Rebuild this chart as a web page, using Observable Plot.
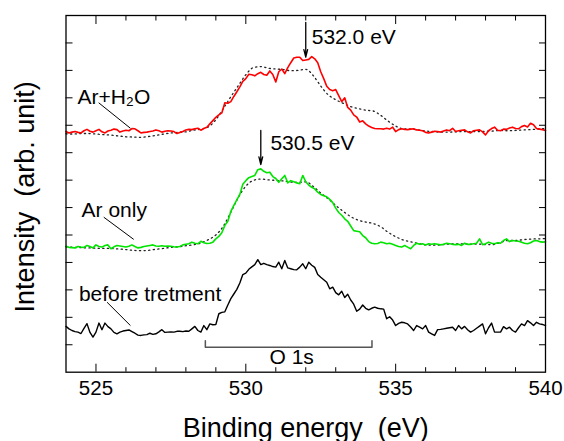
<!DOCTYPE html>
<html>
<head>
<meta charset="utf-8">
<script src="https://cdn.jsdelivr.net/npm/d3@7"></script>
<script src="https://cdn.jsdelivr.net/npm/@observablehq/plot@0.6"></script>
<style>
  html, body { margin: 0; padding: 0; background: #fff; }
</style>
</head>
<body>
<div id="chart"></div>
<script>
// O 1s XPS spectra, stacked with vertical offsets (arbitrary intensity units).
// Solid spectra are sampled every 0.1 eV from 524 eV.
const energyStart = 524;
const energyStep = 0.1;

const beforeTreatment = [
  1.67,1.58,1.52,1.48,1.46,1.41,1.60,1.77,1.45,1.28,
  1.46,1.79,1.55,1.79,1.66,1.58,1.45,1.40,1.46,1.50,1.52,1.54,
  1.48,1.42,1.35,1.34,1.36,1.37,1.42,1.38,1.40,1.47,1.55,1.45,
  1.46,1.47,1.46,1.49,1.49,1.48,1.50,1.49,1.58,1.67,1.52,1.46,1.70,
  1.55,1.76,1.73,1.74,2.13,2.18,2.20,2.45,2.68,2.85,3.02,3.25,
  3.56,3.61,3.75,3.84,3.92,4.10,3.92,3.97,3.92,3.89,3.85,3.83,
  4.01,3.77,4.07,3.80,3.77,3.74,3.73,3.83,3.95,3.77,4.01,3.90,3.82,
  3.56,3.46,3.37,3.28,3.04,3.10,2.90,2.82,2.95,2.72,2.84,2.63,
  2.48,2.22,2.30,2.45,2.33,2.27,2.33,2.37,2.33,2.31,2.30,1.95,2.02,
  1.90,1.70,1.78,1.82,1.80,1.76,1.65,1.52,1.70,1.64,1.58,1.70,
  1.46,1.40,1.34,1.55,1.56,1.58,1.60,1.62,1.64,1.52,1.70,1.58,
  1.67,1.55,1.46,1.52,1.60,1.68,1.76,1.40,1.62,1.79,1.46,1.46,1.46,
  1.66,
  1.58,1.64,1.52,1.46,1.62,1.76,1.70,1.88,1.80,1.70,1.82,1.76,1.74,1.70
];

const arOnly = [
  4.59,4.55,4.54,4.53,4.58,4.56,4.55,4.62,4.58,4.53,
  4.64,4.58,4.56,4.62,4.64,4.50,4.57,4.62,4.60,4.58,4.56,4.59,
  4.64,4.58,4.53,4.55,4.58,4.60,4.62,4.64,4.60,4.59,4.61,4.59,
  4.60,4.59,4.57,4.56,4.58,4.64,4.66,4.68,4.74,4.70,4.68,4.77,4.72,
  4.69,4.70,4.74,4.86,4.95,5.08,5.35,5.50,5.86,6.08,6.28,6.48,
  6.85,6.98,7.09,7.13,7.17,7.38,7.41,7.32,7.27,7.29,7.13,7.06,
  6.92,7.05,7.17,6.90,6.98,6.94,6.90,6.87,7.17,6.94,6.82,6.74,6.68,
  6.56,6.48,6.43,6.39,6.30,6.18,5.98,5.82,5.72,5.59,5.50,5.33,
  5.16,5.14,5.12,4.98,4.90,4.76,4.70,4.68,4.69,4.74,4.72,4.68,4.70,
  4.66,4.62,4.58,4.56,4.62,4.56,4.50,4.62,4.70,4.66,4.68,4.64,
  4.68,4.66,4.68,4.66,4.64,4.66,4.70,4.68,4.66,4.65,4.66,4.62,
  4.70,4.66,4.66,4.68,4.70,4.86,4.65,4.68,4.74,4.70,4.68,4.72,4.70,
  4.80,
  4.86,4.76,4.80,4.78,4.77,4.74,4.70,4.68,4.72,4.78,4.80,4.76,4.74,4.75
];

const arH2O = [
  8.77,8.72,8.75,8.77,8.74,8.72,8.80,8.85,8.78,8.75,
  8.80,8.85,8.76,8.72,8.79,8.82,8.86,8.84,8.75,8.79,8.82,8.80,
  8.88,8.87,8.80,8.72,8.74,8.75,8.77,8.79,8.83,8.80,8.75,8.78,
  8.80,8.79,8.77,8.70,8.74,8.77,8.83,8.85,8.84,8.87,8.89,8.82,8.88,
  8.93,9.05,9.17,9.29,9.38,9.45,9.82,9.80,9.86,10.05,10.22,10.40,
  10.60,10.70,10.86,10.84,10.80,10.88,10.93,10.85,10.82,10.98,10.85,10.58,
  10.95,11.05,10.88,11.10,11.28,11.45,11.48,11.48,11.36,11.38,11.40,11.50,11.42,
  11.28,10.95,10.70,10.42,10.30,10.26,10.30,10.08,9.86,10.00,9.65,9.55,
  9.38,9.30,9.12,9.16,9.05,8.97,8.92,8.88,8.87,8.87,8.86,8.89,8.86,
  8.93,8.77,8.84,8.87,8.85,8.84,8.86,8.87,8.83,8.82,8.80,8.74,
  8.72,8.75,8.78,8.77,8.75,8.79,8.83,8.80,8.89,8.77,8.80,8.82,
  8.83,8.76,8.72,8.80,8.82,8.83,8.76,8.65,8.80,8.88,8.93,8.82,8.80,
  8.86,
  8.85,8.90,8.93,8.88,8.87,8.95,8.99,8.94,9.07,9.02,8.88,8.86,8.84,8.81
];

// Smoothed untreated spectrum (dotted), overlaid on each treated spectrum; 0.25 eV steps.
const refStep = 0.25;
const refUnderArOnly = [
  4.57,4.55,4.54,4.53,4.52,4.51,4.51,4.49,4.47,4.44,
  4.43,4.44,4.48,4.51,4.55,4.57,4.61,4.64,4.71,4.83,
  5.00,5.32,5.83,6.37,6.78,6.99,7.04,7.01,6.99,6.97,
  6.93,6.92,6.94,6.77,6.53,6.32,6.08,5.86,5.67,5.54,
  5.47,5.42,5.30,5.10,4.94,4.82,4.75,4.69,4.64,4.63,
  4.64,4.67,4.68,4.68,4.67,4.67,4.65,4.65,4.73,4.80,
  4.80,4.83,4.85,4.86,4.87
];
const refUnderArH2O = [
  8.69,8.68,8.70,8.70,8.68,8.66,8.64,8.61,8.58,8.57,
  8.56,8.59,8.63,8.68,8.72,8.74,8.76,8.82,8.86,8.94,
  9.20,9.61,10.04,10.44,10.84,11.10,11.14,11.08,11.05,11.03,
  10.99,11.00,11.04,10.81,10.43,10.11,9.93,9.80,9.68,9.61,
  9.55,9.52,9.36,9.15,8.97,8.87,8.86,8.83,8.79,8.77,
  8.75,8.75,8.76,8.77,8.77,8.77,8.78,8.79,8.81,8.80,
  8.81,8.83,8.84,8.86,8.88
];

// Axis ticks
const xMajorTicks = [525, 530, 535, 540];
const xMinorTicks = [526, 527, 528, 529, 531, 532, 533, 534, 536, 537, 538, 539];
const yTicks = [1, 2, 3, 4, 5, 6, 7, 8, 9, 10, 11, 12];

// Peak positions marked with arrows (eV)
const peakEnergies = [532.0, 530.5];
const peakLabels = ["532.0 eV", "530.5 eV"];

// Sample names
const sampleNames = ["Ar+H\u2082O", "Ar only", "before tretment"];

// O 1s region bracket (eV)
const o1sRange = [528.65, 534.21];
const o1sLabel = "O 1s";

// ---- layout for annotations (data units) ----
const arrowTop = [12.75, 8.81];
const arrowTip = [11.48, 7.57];
const peakLabelPos = [{x: 532.2, y: 11.97}, {x: 530.82, y: 8.08}];
const namePos = [{x: 524.38, y: 9.79}, {x: 524.52, y: 5.65}, {x: 524.43, y: 2.61}];
const leaderLines = [
  {x1: 525.09, y1: 9.82, x2: 526.15, y2: 8.89},
  {x1: 525.26, y1: 5.65, x2: 526.26, y2: 4.84},
  {x1: 525.37, y1: 2.55, x2: 526.15, y2: 1.70}
];
const bracketBase = 0.91, bracketEnd = 1.15, o1sLabelY = 0.31;

const toSeries = (values, step) => values.map((v, i) => ({e: energyStart + i * step, v}));
const font = '"Liberation Sans", Arial, Helvetica, sans-serif';
const green = "#00e400";

const chart = Plot.plot({
  width: 564,
  height: 441,
  marginLeft: 65.5,
  marginRight: 19,
  marginTop: 15,
  marginBottom: 69.3,
  style: {fontFamily: font, background: "#fff", color: "#000", overflow: "visible"},
  x: {domain: [524, 540]},
  y: {domain: [0, 13]},
  marks: [
    // reference (dotted) spectra
    Plot.line(toSeries(refUnderArH2O, refStep), {x: "e", y: "v", stroke: "#222", strokeWidth: 1.3, strokeDasharray: "1.2 3.4", curve: "monotone-x"}),
    Plot.line(toSeries(refUnderArOnly, refStep), {x: "e", y: "v", stroke: "#222", strokeWidth: 1.3, strokeDasharray: "1.2 3.4", curve: "monotone-x"}),
    // measured spectra
    Plot.line(toSeries(beforeTreatment, energyStep), {x: "e", y: "v", stroke: "#000", strokeWidth: 1.4}),
    Plot.line(toSeries(arOnly, energyStep), {x: "e", y: "v", stroke: green, strokeWidth: 1.6}),
    Plot.line(toSeries(arH2O, energyStep), {x: "e", y: "v", stroke: "#ff0000", strokeWidth: 1.6}),

    // peak arrows and labels
    Plot.arrow(peakEnergies, {x: d => d, y1: (d, i) => arrowTop[i], y2: (d, i) => arrowTip[i], stroke: "#000", strokeWidth: 1.3, headLength: 9, headAngle: 28}),
    Plot.text(peakLabels, {x: (d, i) => peakLabelPos[i].x, y: (d, i) => peakLabelPos[i].y, text: d => d, textAnchor: "start", lineAnchor: "bottom", fontSize: 21, fill: "#000"}),

    // sample names with leader lines
    Plot.link(leaderLines, {x1: "x1", y1: "y1", x2: "x2", y2: "y2", stroke: "#000", strokeWidth: 1}),
    Plot.text(sampleNames, {x: (d, i) => namePos[i].x, y: (d, i) => namePos[i].y, text: d => d, textAnchor: "start", lineAnchor: "bottom", fontSize: 21, fill: "#000"}),

    // O 1s bracket
    Plot.line([
      {e: o1sRange[0], v: bracketEnd}, {e: o1sRange[0], v: bracketBase},
      {e: o1sRange[1], v: bracketBase}, {e: o1sRange[1], v: bracketEnd}
    ], {x: "e", y: "v", stroke: "#555", strokeWidth: 1.5}),
    Plot.text([o1sLabel], {x: (o1sRange[0] + o1sRange[1]) / 2 + 0.1, y: o1sLabelY, text: d => d, textAnchor: "middle", lineAnchor: "bottom", fontSize: 21, fill: "#000"}),

    // inward ticks on all four sides
    Plot.axisX({anchor: "bottom", ticks: xMajorTicks, tickSize: -8, tickFormat: () => "", label: null}),
    Plot.axisX({anchor: "bottom", ticks: xMinorTicks, tickSize: -4.5, tickFormat: () => "", label: null}),
    Plot.axisX({anchor: "top", ticks: xMajorTicks, tickSize: -8, tickFormat: () => "", label: null}),
    Plot.axisX({anchor: "top", ticks: xMinorTicks, tickSize: -4.5, tickFormat: () => "", label: null}),
    Plot.axisY({anchor: "left", ticks: yTicks, tickSize: -7, tickFormat: () => "", label: null}),
    Plot.axisY({anchor: "right", ticks: yTicks, tickSize: -7, tickFormat: () => "", label: null}),
    // tick labels
    Plot.axisX({anchor: "bottom", ticks: xMajorTicks, tickSize: 0, tickPadding: 8, fontSize: 20.5, label: null}),

    // axis titles
    Plot.text(["Binding energy  (eV)"], {frameAnchor: "bottom", dy: 64.3, textAnchor: "middle", lineAnchor: "bottom", fontSize: 27, fill: "#000"}),
    Plot.text(["Intensity  (arb. unit)"], {frameAnchor: "left", dx: -51.5, dy: 3, rotate: -90, textAnchor: "middle", lineAnchor: "top", fontSize: 27, fill: "#000"}),

    Plot.frame({stroke: "#000", strokeWidth: 1.3})
  ]
});

document.getElementById("chart").appendChild(chart);
</script>
</body>
</html>
